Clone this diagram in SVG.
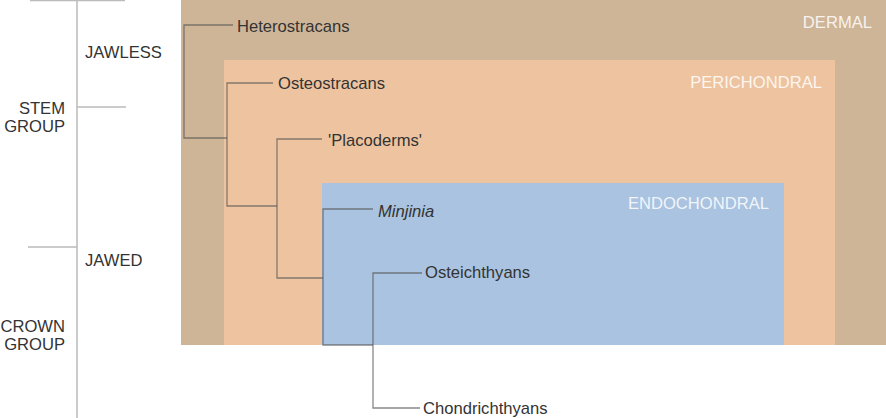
<svg xmlns="http://www.w3.org/2000/svg" width="886" height="418" viewBox="0 0 886 418">
<style>
.lbl{font-family:"Liberation Sans",Arial,sans-serif;font-size:16.6px;fill:#333}
.zone{font-family:"Liberation Sans",Arial,sans-serif;font-size:16.6px;fill:#fff;fill-opacity:0.85;text-anchor:end}
.ax{stroke:#bbb;stroke-width:1.5;fill:none}
.br{stroke:#555;stroke-opacity:0.7;stroke-width:1.3;fill:none}
</style>
<rect width="886" height="418" fill="#fff"/>
<g id="zones">
<rect id="dermal" x="181" y="0" width="705" height="345" fill="#cfb597"/>
<rect id="perichondral" x="224" y="60" width="611" height="285" fill="#eec4a0"/>
<rect id="endochondral" x="322" y="183" width="462" height="162" fill="#aac3e0"/>
<text class="zone" x="872" y="28">DERMAL</text>
<text class="zone" x="822" y="88">PERICHONDRAL</text>
<text class="zone" x="769" y="209">ENDOCHONDRAL</text>
</g>
<g id="axis">
<path class="ax" d="M77 0V418M30 0.5H125M77 107H126M28 247H77"/>
<text class="lbl" x="85" y="58">JAWLESS</text>
<text class="lbl" x="85" y="266">JAWED</text>
<text class="lbl" x="65" y="114" text-anchor="end">STEM</text>
<text class="lbl" x="65" y="132" text-anchor="end">GROUP</text>
<text class="lbl" x="65" y="332" text-anchor="end">CROWN</text>
<text class="lbl" x="65" y="350" text-anchor="end">GROUP</text>
</g>
<g id="connectors">
<path class="br" d="M233 25H184V138H227"/>
<path class="br" d="M273 83H227V206H277"/>
<path class="br" d="M322 139H277V278H323"/>
<path class="br" d="M373 209H323V345H373"/>
<path class="br" d="M422 273H373V408H420"/>
</g>
<g id="taxa">
<text id="heterostracans" class="lbl" x="237" y="32">Heterostracans</text>
<text id="osteostracans" class="lbl" x="278" y="89">Osteostracans</text>
<text id="placoderms" class="lbl" x="328" y="146">'Placoderms'</text>
<text id="minjinia" class="lbl" x="378" y="217" font-style="italic">Minjinia</text>
<text id="osteichthyans" class="lbl" x="425" y="278">Osteichthyans</text>
<text id="chondrichthyans" class="lbl" x="423" y="414">Chondrichthyans</text>
</g>
</svg>
